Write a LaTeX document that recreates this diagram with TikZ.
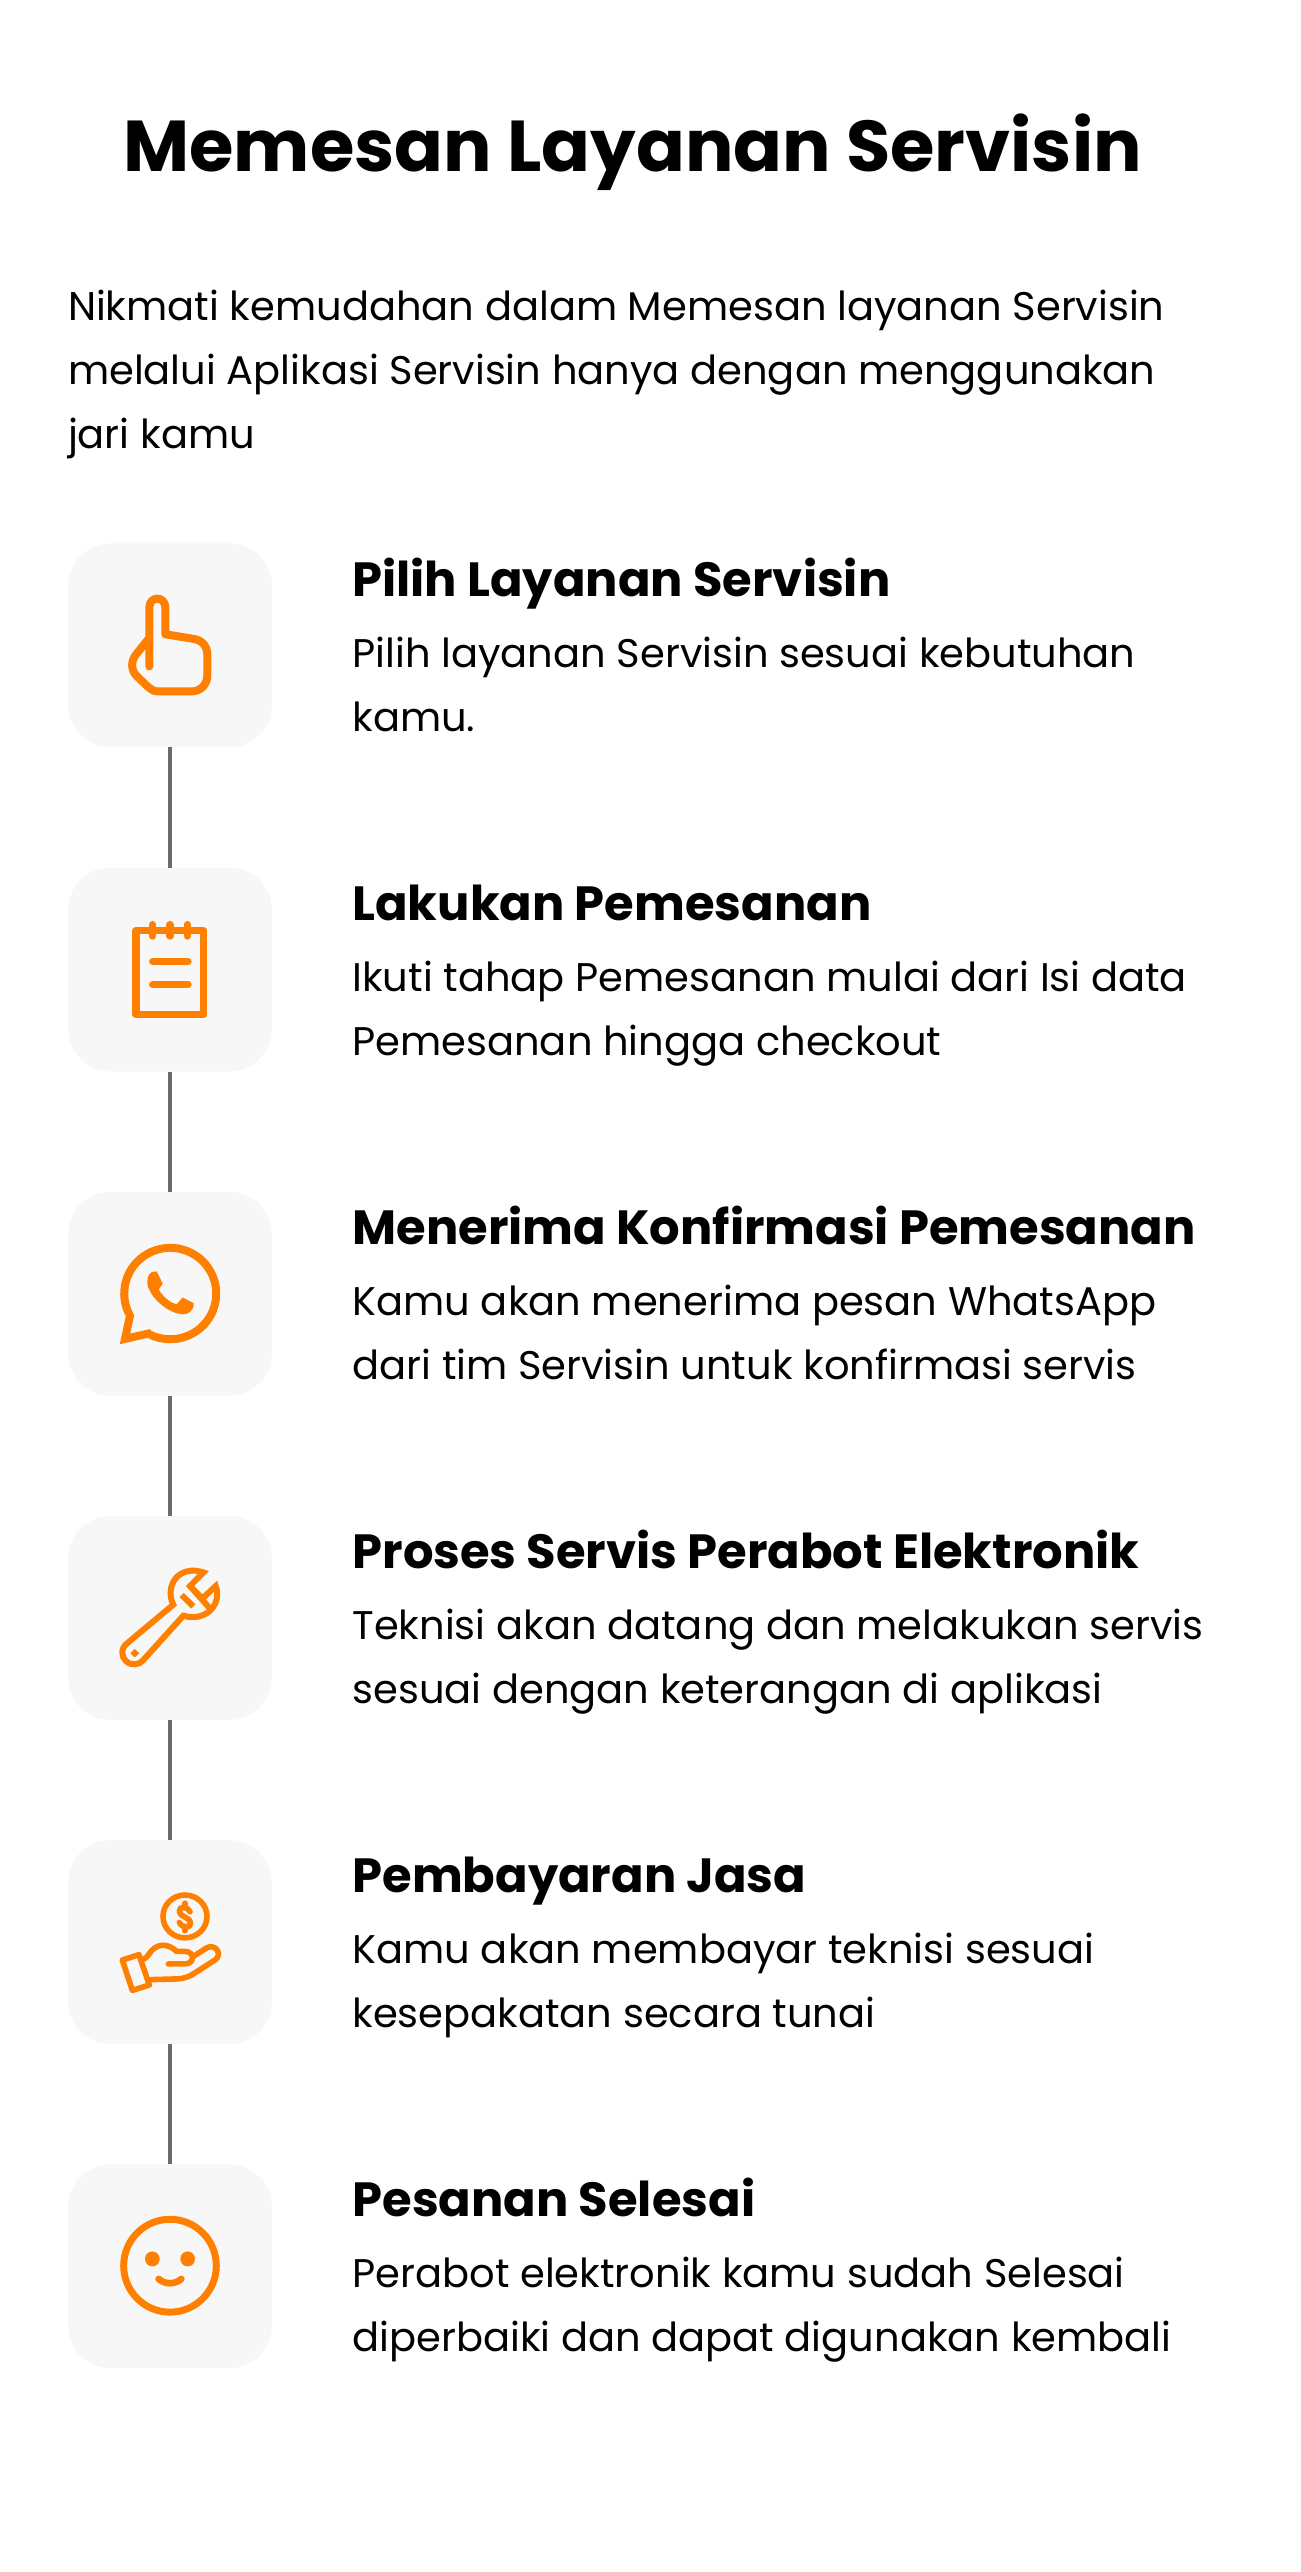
\documentclass[tikz,border=0pt]{standalone}
\usepackage{fontspec}
\setmainfont{Poppins}
\definecolor{iconorange}{HTML}{FF8000}
\definecolor{boxgrey}{HTML}{F7F7F7}
\definecolor{linkgrey}{HTML}{6B6B6B}
\tikzset{
  iconbox/.style={fill=boxgrey,draw=none,rounded corners=32pt,minimum width=153pt,minimum height=153pt,inner sep=0pt,outer sep=0pt},
  link/.style={draw=linkgrey,line width=3pt},
  titletext/.style={anchor=base west,inner sep=0pt,outer sep=0pt,font=\fontsize{54}{60}\selectfont\bfseries},
  headtext/.style={anchor=base west,inner sep=0pt,outer sep=0pt,font=\fontsize{36}{44}\selectfont\bfseries},
  bodytext/.style={anchor=base west,inner sep=0pt,outer sep=0pt,align=left,font=\fontsize{30}{48}\selectfont},
  zoomA/.style={shift={(40,520)},xscale=1/3,yscale=1/2.8},
  zoomB/.style={shift={(40,1170)},xscale=1/3,yscale=1/2.8},
  zoomC/.style={shift={(40,1820)},xscale=1/3,yscale=1/2.8},
  ic/.style={draw=iconorange,line width=#1,line cap=round,line join=round},
  ic/.default=6pt
}
\begin{document}
\begin{tikzpicture}[x=0.75pt,y=-0.75pt]
\useasboundingbox (0,0) rectangle (1300,2572);
\node[titletext] (title) at (123.5,172) {Memesan Layanan Servisin};
\node[bodytext] (intro) at (68,448) {Nikmati kemudahan dalam Memesan layanan Servisin\\melalui Aplikasi Servisin hanya dengan menggunakan\\jari kamu};
% boxes
\node[iconbox] (b1) at (170,645.3) {};
\node[iconbox] (b2) at (170,969.5) {};
\node[iconbox] (b3) at (170,1293.7) {};
\node[iconbox] (b4) at (170,1617.9) {};
\node[iconbox] (b5) at (170,1942.1) {};
\node[iconbox] (b6) at (170,2266.3) {};
\draw[link] (b1.south) -- (b2.north);
\draw[link] (b2.south) -- (b3.north);
\draw[link] (b3.south) -- (b4.north);
\draw[link] (b4.south) -- (b5.north);
\draw[link] (b5.south) -- (b6.north);
% texts
\node[headtext] (h1) at (352.5,596) {Pilih Layanan Servisin};
\node[bodytext] (d1) at (352.5,731) {Pilih layanan Servisin sesuai kebutuhan\\kamu.};
\node[headtext] (h2) at (352.5,920) {Lakukan Pemesanan};
\node[bodytext] (d2) at (352.5,1055) {Ikuti tahap Pemesanan mulai dari Isi data\\Pemesanan hingga checkout};
\node[headtext] (h3) at (352.5,1244) {Menerima Konfirmasi Pemesanan};
\node[bodytext] (d3) at (352.5,1379) {Kamu akan menerima pesan WhatsApp\\dari tim Servisin untuk konfirmasi servis};
\node[headtext] (h4) at (352.5,1568) {Proses Servis Perabot Elektronik};
\node[bodytext] (d4) at (352.5,1703) {Teknisi akan datang dan melakukan servis\\sesuai dengan keterangan di aplikasi};
\node[headtext] (h5) at (352.5,1892) {Pembayaran Jasa};
\node[bodytext] (d5) at (352.5,2027) {Kamu akan membayar teknisi sesuai\\kesepakatan secara tunai};
\node[headtext] (h6) at (352.5,2216) {Pesanan Selesai};
\node[bodytext] (d6) at (352.5,2351) {Perabot elektronik kamu sudah Selesai\\diperbaiki dan dapat digunakan kembali};
% icon 1: pointing hand
\begin{scope}[zoomA]
\draw[ic] (328,410) -- (328,245) .. controls (328,212) and (376,212) .. (376,245) -- (376,320) -- (462,333) .. controls (488,337) and (502,355) .. (502,378) -- (502,435) .. controls (502,462) and (480,480) .. (455,480) -- (355,480) .. controls (342,480) and (333,475) .. (325,468) -- (290,437) .. controls (272,420) and (273,395) .. (287,378) -- (328,330);
\end{scope}
% icon 2: notepad
\begin{scope}[zoomA]
\draw[ic=5.5pt] (288,1150) rectangle (491,1385);
\draw[ic=5.5pt] (338,1133) -- (338,1165);
\draw[ic=5.5pt] (390,1133) -- (390,1165);
\draw[ic=5.5pt] (442,1133) -- (442,1165);
\draw[ic=5.5pt] (338,1236) -- (444,1236);
\draw[ic=5.5pt] (338,1301) -- (444,1301);
\end{scope}
% icon 3: whatsapp
\begin{scope}[zoomB]
\draw[ic,line join=miter,line cap=butt] (325,458) -- (255,473) -- (270,408) arc[start angle=151,end angle=478,x radius=138,y radius=128] -- cycle;
\fill[iconorange] (335,286) -- (350,284) -- (368,318) -- (356,335) .. controls (370,355) and (390,372) .. (410,376) -- (428,357) -- (461,373) .. controls (462,395) and (445,405) .. (425,404) .. controls (385,400) and (340,365) .. (325,330) .. controls (318,310) and (323,292) .. (335,286) -- cycle;
\end{scope}
% icon 4: wrench
\begin{scope}[zoomB]
\draw[ic=4.5pt,line join=miter,line cap=butt] (490,1127) .. controls (440,1110) and (395,1135) .. (392,1180) .. controls (391,1195) and (395,1208) .. (400,1217) -- (262,1325) .. controls (240,1340) and (245,1365) .. (258,1375) .. controls (275,1390) and (300,1385) .. (310,1372) -- (430,1248) .. controls (470,1260) and (510,1245) .. (525,1215) .. controls (535,1195) and (532,1175) .. (527,1165) -- (487,1200) -- (450,1165) -- cycle;
\draw[ic=4.5pt,line cap=butt] (450,1165) -- (510,1228);
\draw[ic=4.5pt,line cap=butt] (425,1190) -- (460,1222);
\fill[iconorange] (284,1341) -- (298,1353) -- (284,1365) -- (271,1353) -- cycle;
\end{scope}
% icon 5: coin in hand
\begin{scope}[zoomC]
\draw[ic=4.2pt] (435,270) ellipse[x radius=66,y radius=60];
\draw[ic=4.2pt] (450,257) .. controls (440,240) and (418,240) .. (418,256) .. controls (418,272) and (452,272) .. (452,288) .. controls (452,304) and (428,304) .. (418,287);
\draw[ic=4.2pt] (435,233) -- (435,245);
\draw[ic=4.2pt] (435,298) -- (435,310);
\draw[ic=4.2pt] (247,392) -- (297,377) -- (328,462) -- (277,477) -- cycle;
\draw[ic=4.2pt] (310,390) .. controls (330,380) and (325,370) .. (345,358) .. controls (365,345) and (390,350) .. (410,368) -- (435,368) .. controls (465,368) and (465,403) .. (435,403) -- (385,403);
\draw[ic=4.2pt] (460,382) -- (500,358) .. controls (525,345) and (550,375) .. (525,392) -- (465,428) .. controls (450,438) and (430,445) .. (410,445) -- (328,447);
\end{scope}
% icon 6: smiley
\begin{scope}[zoomC]
\draw[ic=5.2pt] (390,1248) ellipse[x radius=139,y radius=130];
\fill[iconorange] (337,1229) ellipse[x radius=22,y radius=21];
\fill[iconorange] (443,1229) ellipse[x radius=22,y radius=21];
\draw[ic=5pt] (356,1285) .. controls (375,1301) and (405,1301) .. (424,1285);
\end{scope}
\end{tikzpicture}
\end{document}
